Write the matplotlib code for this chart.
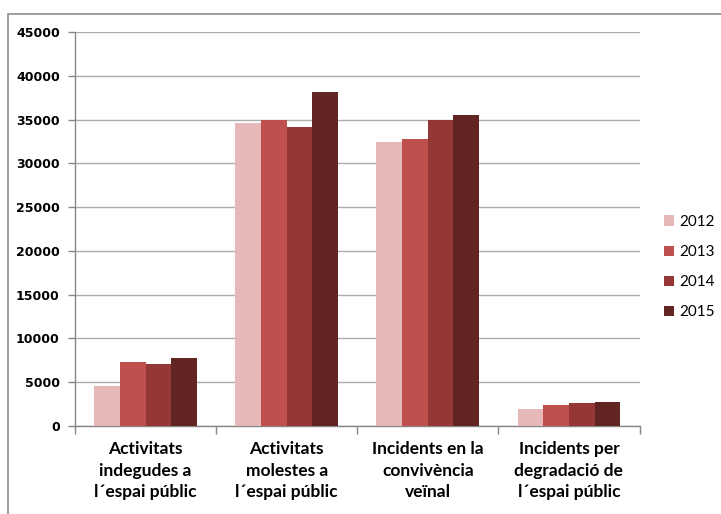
import matplotlib
matplotlib.use("Agg")
import matplotlib.pyplot as plt
import numpy as np
from matplotlib.patches import Rectangle

categories = ["Activitats\nindegudes a\nl´espai públic",
              "Activitats\nmolestes a\nl´espai públic",
              "Incidents en la\nconvivència\nveïnal",
              "Incidents per\ndegradació de\nl´espai públic"]
years = ["2012", "2013", "2014", "2015"]
v2012 = [4550, 34620, 32470, 1940]
v2013 = [7290, 35000, 32750, 2390]
v2014 = [7060, 34160, 34970, 2620]
v2015 = [7820, 38150, 35500, 2700]
series = [v2012, v2013, v2014, v2015]
colors = ["#E6B9B8", "#C0504D", "#953735", "#632523"]
yticks = list(range(0, 45001, 5000))

fig = plt.figure(figsize=(7.21, 5.14), dpi=100)
ax = fig.add_axes([75/721, 1-426/514, (639.5-75)/721, (426-32)/514])

n = len(series)
gap = 1.5
w = 1.0/(n+gap)
x = np.arange(len(categories))
for i, (vals, c) in enumerate(zip(series, colors)):
    ax.bar(x - (n/2)*w + (i+0.5)*w, vals, width=w, color=c, label=years[i], zorder=3)

ax.set_xlim(-0.5, len(categories)-0.5)
ax.set_ylim(0, 45000)
ax.set_yticks(yticks)
ax.set_yticklabels([str(t) for t in yticks], fontfamily="DejaVu Sans", fontweight="bold", fontsize=9)
ax.yaxis.grid(True, color="#ADADAD", linewidth=1, zorder=0)
ax.set_axisbelow(True)

ax.set_xticks(x)
ax.set_xticklabels(categories, fontfamily="Lato", fontweight="bold", fontsize=12.5, linespacing=1.42)
ax.tick_params(axis="x", length=0, pad=11)
ax.set_xticks(np.arange(-0.5, len(categories), 1), minor=True)
ax.tick_params(axis="x", which="minor", length=6, color="#868686", width=1)
ax.tick_params(axis="y", length=5, color="#868686", width=1, pad=6)

for s in ["top", "right"]:
    ax.spines[s].set_visible(False)
for s in ["left", "bottom"]:
    ax.spines[s].set_color("#868686")
    ax.spines[s].set_linewidth(1)

leg = fig.legend(loc="center left", bbox_to_anchor=(664/721, 1-267/514), frameon=False,
                 prop={"family": "Lato", "size": 11}, handlelength=0.65, handleheight=0.65,
                 labelspacing=1.05, handletextpad=0.35, borderaxespad=0, borderpad=0)

# chart-area border (top & left visible)
fig.add_artist(Rectangle((8/721, -0.1), 1.1, 1-14/514+0.1, transform=fig.transFigure,
                         fill=False, edgecolor="#8C8C8C", linewidth=1.2))

fig.savefig("out.png", dpi=100)
